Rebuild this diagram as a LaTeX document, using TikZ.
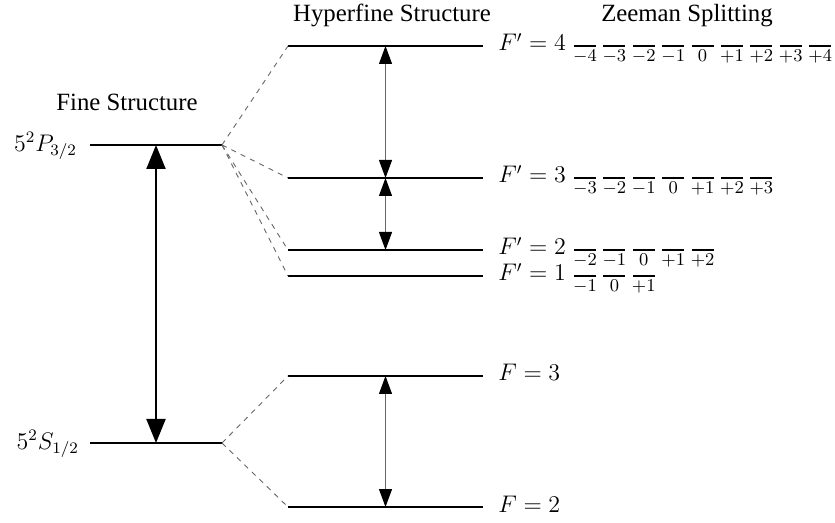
\documentclass[tikz,border=0pt]{standalone}
\usepackage{fontspec}
\setmainfont{Liberation Serif}
\usepackage{tikz}
\usetikzlibrary{calc, arrows.meta}
\tikzset{
  finelevel/.style={line width=1.4pt},
  hfslevel/.style={line width=0.7pt},
  zlevel/.style={line width=0.75pt},
  split/.style={gray!80!black, line width=0.45pt, dash pattern=on 2.6pt off 2.6pt},
  finearrow/.style={line width=1pt, {Triangle[length=12pt,width=9.5pt]}-{Triangle[length=12pt,width=9.5pt]}},
  hfsarrow/.style={gray!80!black, line width=0.55pt,
    {Triangle[length=9pt,width=6.5pt,color=black]}-{Triangle[length=9pt,width=6.5pt,color=black]}},
  title/.style={font=\fontsize{12.4}{14}\selectfont},
  mathlab/.style={font=\fontsize{11.5}{13}\selectfont},
  sublab/.style={font=\fontsize{9}{10}\selectfont, inner sep=1pt}
}

\begin{document}
\begin{tikzpicture}[x=0.5pt, y=-0.5pt]
  \useasboundingbox (0,0) rectangle (835,523);

  % Titles
  \node[title, anchor=base] (finetitle) at (127,111) {Fine Structure};
  \node[title, anchor=base] (hfstitle) at (392,22) {Hyperfine Structure};
  \node[title, anchor=base] (zeetitle) at (687,22) {Zeeman Splitting};

  % Fine structure levels
  \draw[finelevel] (90,145) coordinate (P-l) -- (222,145) coordinate (P-r);
  \draw[finelevel] (90,443) coordinate (S-l) -- (222,443) coordinate (S-r);
  \node[mathlab, anchor=east] (P-lab) at (84,146) {$5^2P_{3/2}$};
  \node[mathlab, anchor=east] (S-lab) at (86,444) {$5^2S_{1/2}$};
  \draw[finearrow] ($(P-l)!.5!(P-r)$) -- ($(S-l)!.5!(S-r)$);

  % Hyperfine levels
  \foreach \lvl/\y/\txt in {Fp4/46/{$F'=4$}, Fp3/178/{$F'=3$}, Fp2/250/{$F'=2$},
                            Fp1/276/{$F'=1$}, F3/376/{$F=3$}, F2/507/{$F=2$}}{
    \draw[hfslevel] (288,\y) coordinate (\lvl-l) -- (483,\y) coordinate (\lvl-r);
    \node[mathlab, anchor=base west, inner sep=0pt] (\lvl-lab) at (498,\y+5) {\txt};
  }

  % Splitting
  \foreach \lvl in {Fp4, Fp3, Fp2, Fp1}
    \draw[split] (P-r) -- (\lvl-l);
  \foreach \lvl in {F3, F2}
    \draw[split] (S-r) -- (\lvl-l);

  \draw[hfsarrow] ($(Fp4-l)!.5!(Fp4-r)$) -- ($(Fp3-l)!.5!(Fp3-r)$);
  \draw[hfsarrow] ($(Fp3-l)!.5!(Fp3-r)$) -- ($(Fp2-l)!.5!(Fp2-r)$);
  \draw[hfsarrow] ($(F3-l)!.5!(F3-r)$) -- ($(F2-l)!.5!(F2-r)$);

  % Zeeman sublevels
  \foreach \lvl/\y/\ms in {Fp4/46/{-4,-3,-2,-1,0,+1,+2,+3,+4},
                           Fp3/178/{-3,-2,-1,0,+1,+2,+3},
                           Fp2/250/{-2,-1,0,+1,+2},
                           Fp1/276/{-1,0,+1}}{
    \foreach \m [count=\i from 0] in \ms {
      \draw[zlevel] ({574+29.4*\i},\y) -- ++(22,0);
      \node[sublab, anchor=north] (\lvl-m\i) at ({585+29.4*\i},\y+2) {$\m$};
    }
  }
\end{tikzpicture}
\end{document}
